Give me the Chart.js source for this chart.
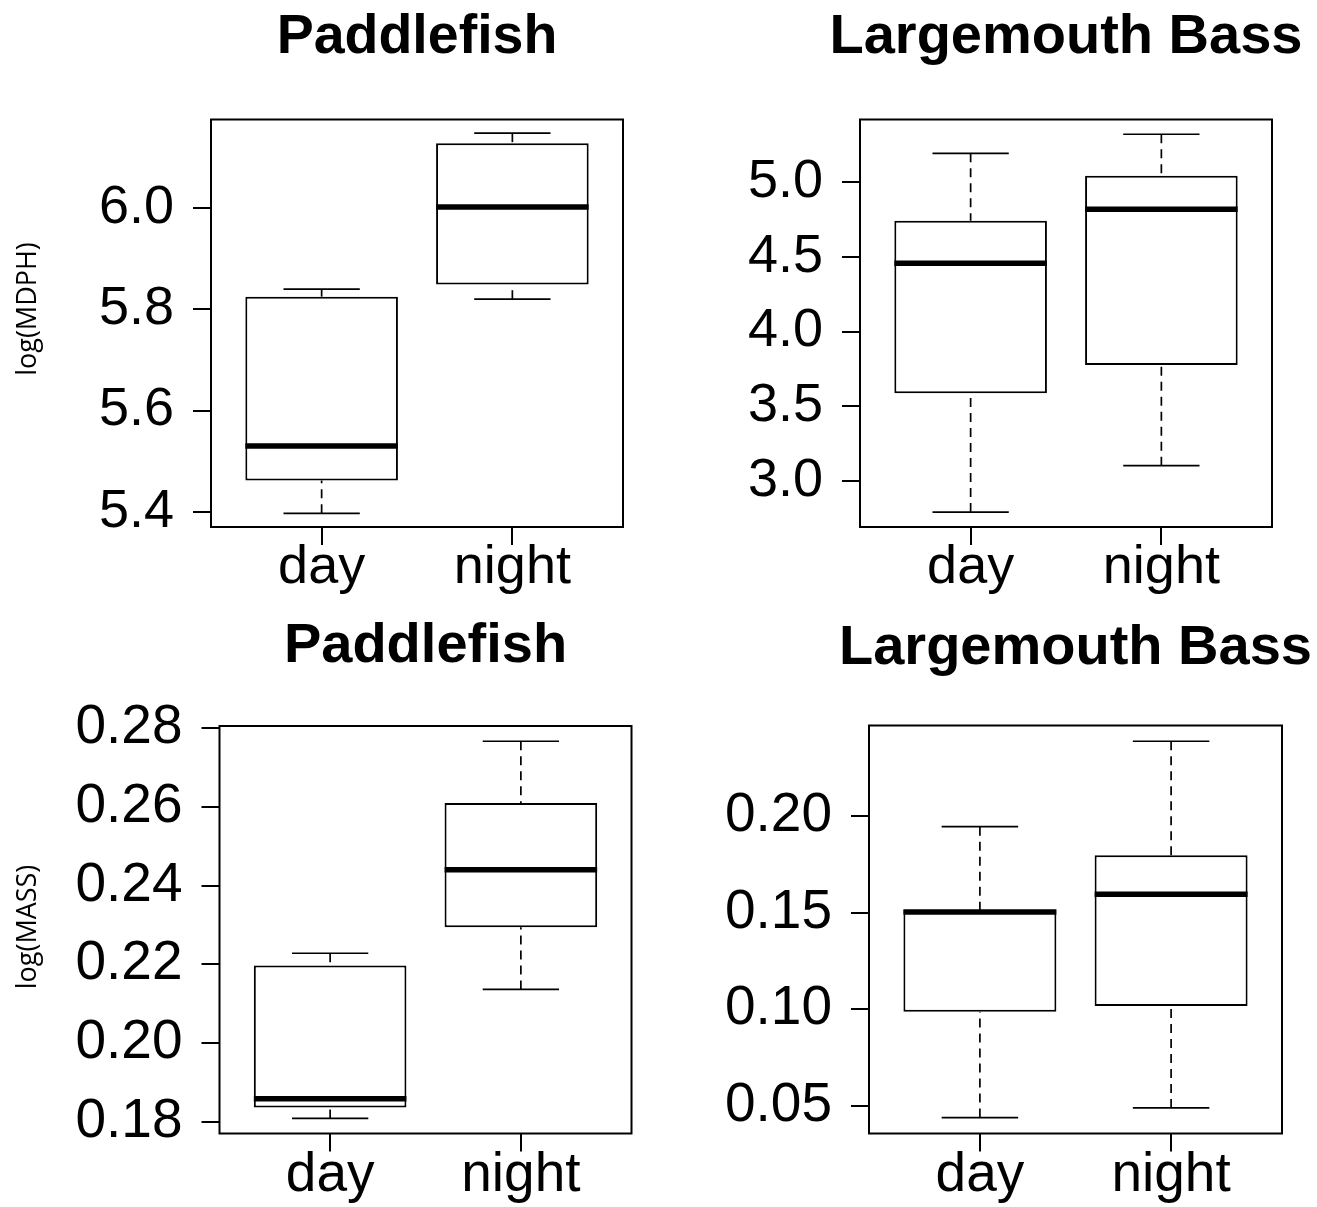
<!DOCTYPE html>
<html>
<head>
<meta charset="utf-8">
<script src="https://cdn.jsdelivr.net/npm/chart.js@4.4.1/dist/chart.umd.min.js"></script>
<style>
  html, body { margin: 0; padding: 0; background: #fff; }
  #wrap { position: relative; width: 1317px; height: 1207px; overflow: hidden; }
  #wrap canvas { position: absolute; }
</style>
</head>
<body>
<div id="wrap">
  <canvas id="c1" width="655" height="605" style="left:0px;top:0px"></canvas>
  <canvas id="c2" width="662" height="605" style="left:655px;top:0px"></canvas>
  <canvas id="c3" width="655" height="602" style="left:0px;top:605px"></canvas>
  <canvas id="c4" width="662" height="602" style="left:655px;top:605px"></canvas>
</div>
<script>
const groups = ['day', 'night'];

// log(MDPH) - Paddlefish
const mdphPadLow  = [5.397, 5.820];
const mdphPadQ1   = [5.462, 5.849];
const mdphPadMed  = [5.530, 6.002];
const mdphPadQ3   = [5.825, 6.128];
const mdphPadHigh = [5.840, 6.148];
const mdphPadTicks = [5.4, 5.6, 5.8, 6.0];

// log(MDPH) - Largemouth Bass
const mdphBassLow  = [2.790, 3.101];
const mdphBassQ1   = [3.586, 3.775];
const mdphBassMed  = [4.457, 4.819];
const mdphBassQ3   = [4.743, 5.044];
const mdphBassHigh = [5.194, 5.322];
const mdphBassTicks = [3.0, 3.5, 4.0, 4.5, 5.0];

// log(MASS) - Paddlefish
const massPadLow  = [0.1808, 0.2136];
const massPadQ1   = [0.1836, 0.2294];
const massPadMed  = [0.1858, 0.2440];
const massPadQ3   = [0.2197, 0.2610];
const massPadHigh = [0.2228, 0.2767];
const massPadTicks = [0.18, 0.20, 0.22, 0.24, 0.26, 0.28];

// log(MASS) - Largemouth Bass
const massBassLow  = [0.0438, 0.0488];
const massBassQ1   = [0.0987, 0.1017];
const massBassMed  = [0.1504, 0.1596];
const massBassQ3   = [0.1514, 0.1798];
const massBassHigh = [0.1946, 0.2389];
const massBassTicks = [0.05, 0.10, 0.15, 0.20];

const FONT = "'Liberation Sans', Arial, Helvetica, sans-serif";

// whiskers, caps, medians, frame and panel texts, drawn through the chart's scales
function boxParts(p, cl, ct) {
  const st = p.st;
  const seg = (ctx, x1, y1, x2, y2) => { ctx.beginPath(); ctx.moveTo(x1, y1); ctx.lineTo(x2, y2); ctx.stroke(); };
  return {
    id: 'boxParts',
    beforeDatasetsDraw(chart) {
      const { ctx, scales: { x, y } } = chart;
      ctx.save();
      ctx.strokeStyle = '#000';
      ctx.lineWidth = 1.7;
      groups.forEach((g, i) => {
        const cx = x.getPixelForValue(i + 1);
        const l = x.getPixelForValue(i + 1 - 0.2), r = x.getPixelForValue(i + 1 + 0.2);
        const yLo = y.getPixelForValue(st.low[i]), yHi = y.getPixelForValue(st.high[i]);
        ctx.setLineDash([9, 6]);
        seg(ctx, cx, yLo, cx, y.getPixelForValue(st.q1[i]));
        seg(ctx, cx, yHi, cx, y.getPixelForValue(st.q3[i]));
        ctx.setLineDash([]);
        seg(ctx, l, yLo, r, yLo);
        seg(ctx, l, yHi, r, yHi);
      });
      ctx.restore();
    },
    afterDatasetsDraw(chart) {
      const { ctx, chartArea: a, scales: { x, y } } = chart;
      ctx.save();
      ctx.strokeStyle = '#000';
      ctx.lineWidth = 5.5;
      groups.forEach((g, i) => {
        const ym = y.getPixelForValue(st.med[i]);
        seg(ctx, x.getPixelForValue(i + 1 - 0.4), ym, x.getPixelForValue(i + 1 + 0.4), ym);
      });
      ctx.lineWidth = 2;
      ctx.strokeRect(a.left, a.top, a.right - a.left, a.bottom - a.top);

      // panel title, centred over the plot box
      ctx.fillStyle = '#000';
      ctx.textAlign = 'center';
      ctx.textBaseline = 'alphabetic';
      ctx.font = `bold ${p.titleSize}px ${FONT}`;
      ctx.fillText(p.title, (a.left + a.right) / 2, p.titleBase - ct);

      // y axis label
      if (p.yTitle) {
        ctx.translate(p.yTitleX - cl, p.yTitleY - ct);
        ctx.rotate(-Math.PI / 2);
        ctx.textBaseline = 'middle';
        ctx.font = "27px 'Open Sans', sans-serif";
        ctx.fillText(p.yTitle, 0, 0);
      }
      ctx.restore();
    }
  };
}

function boxPanel(id, p) {
  const canvas = document.getElementById(id);
  const cl = canvas.offsetLeft, ct = canvas.offsetTop;
  const W = canvas.width, H = canvas.height;
  return new Chart(canvas, {
    type: 'bar',
    data: {
      datasets: [{
        data: groups.map((g, i) => ({ x: i + 1, y: [p.st.q1[i], p.st.q3[i]] })),
        backgroundColor: '#fff',
        borderColor: '#000',
        borderWidth: 2,
        borderSkipped: false,
        categoryPercentage: 1,
        barPercentage: 0.8
      }]
    },
    options: {
      responsive: false,
      animation: false,
      devicePixelRatio: 1,
      layout: { padding: { left: 0, top: p.area.t - ct, bottom: 0, right: cl + W - p.area.r } },
      plugins: {
        legend: { display: false },
        tooltip: { enabled: false },
        title: { display: false }
      },
      scales: {
        x: {
          type: 'linear', min: 0.42, max: 2.58, offset: false,
          afterBuildTicks: s => { s.ticks = groups.map((g, i) => ({ value: i + 1 })); },
          afterFit: s => { s.height = ct + H - p.area.b; },
          grid: { offset: false, drawOnChartArea: false, drawTicks: true, tickLength: 18, color: '#000', lineWidth: 2 },
          border: { display: false },
          ticks: {
            callback: v => groups[v - 1],
            color: '#000', autoSkip: false, maxRotation: 0, padding: p.xPad,
            font: { family: FONT, size: p.tickSize, lineHeight: 1 }
          }
        },
        y: {
          min: p.yMin, max: p.yMax,
          afterBuildTicks: s => { s.ticks = p.ticks.map(v => ({ value: v })); },
          afterFit: s => { s.width = p.area.l - cl; },
          grid: { drawOnChartArea: false, drawTicks: true, tickLength: 18, color: '#000', lineWidth: 2 },
          border: { display: false },
          ticks: {
            callback: v => v.toFixed(p.dec),
            color: '#000', padding: 19,
            font: { family: FONT, size: p.tickSize, lineHeight: 1 }
          }
        }
      }
    },
    plugins: [boxParts(p, cl, ct)]
  });
}

boxPanel('c1', {
  title: 'Paddlefish', yTitle: 'log(MDPH)', yTitleX: 28, yTitleY: 309,
  area: { l: 211, t: 119.5, r: 623, b: 527 },
  yMin: 5.370, yMax: 6.175, ticks: mdphPadTicks, dec: 1,
  st: { low: mdphPadLow, q1: mdphPadQ1, med: mdphPadMed, q3: mdphPadQ3, high: mdphPadHigh },
  titleSize: 55.5, titleBase: 53, tickSize: 54, xPad: -4
});
boxPanel('c2', {
  title: 'Largemouth Bass', yTitle: '',
  area: { l: 860, t: 119.5, r: 1272, b: 527 },
  yMin: 2.690, yMax: 5.421, ticks: mdphBassTicks, dec: 1,
  st: { low: mdphBassLow, q1: mdphBassQ1, med: mdphBassMed, q3: mdphBassQ3, high: mdphBassHigh },
  titleSize: 56, titleBase: 53, tickSize: 54, xPad: -4
});
boxPanel('c3', {
  title: 'Paddlefish', yTitle: 'log(MASS)', yTitleX: 28, yTitleY: 927,
  area: { l: 219.5, t: 726, r: 631.5, b: 1133.5 },
  yMin: 0.17697, yMax: 0.28058, ticks: massPadTicks, dec: 2,
  st: { low: massPadLow, q1: massPadQ1, med: massPadMed, q3: massPadQ3, high: massPadHigh },
  titleSize: 56, titleBase: 662, tickSize: 55, xPad: -3
});
boxPanel('c4', {
  title: 'Largemouth Bass', yTitle: '',
  area: { l: 869, t: 725.5, r: 1282, b: 1133.5 },
  yMin: 0.03556, yMax: 0.24707, ticks: massBassTicks, dec: 2,
  st: { low: massBassLow, q1: massBassQ1, med: massBassMed, q3: massBassQ3, high: massBassHigh },
  titleSize: 56, titleBase: 664, tickSize: 55, xPad: -3
});
</script>
</body>
</html>
